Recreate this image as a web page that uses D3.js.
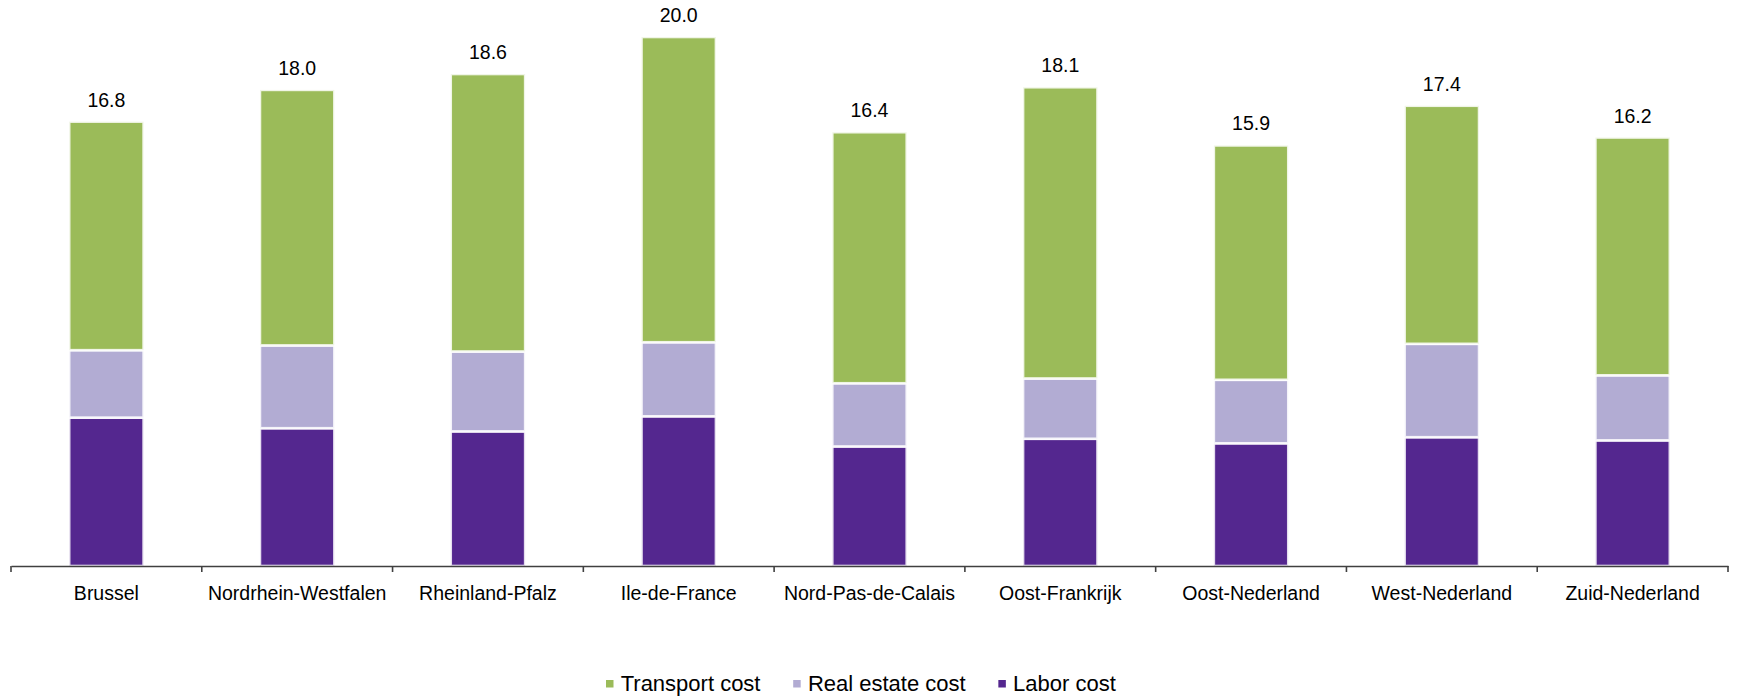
<!DOCTYPE html>
<html>
<head>
<meta charset="utf-8">
<script src="https://cdn.jsdelivr.net/npm/d3@7"></script>
<style>
  html, body { margin: 0; padding: 0; background: #fff; }
  svg { display: block; font-family: "Liberation Sans", Arial, sans-serif; }
</style>
</head>
<body>
<svg id="chart" width="1737" height="696"></svg>
<script>
const categories = ["Brussel", "Nordrhein-Westfalen", "Rheinland-Pfalz", "Ile-de-France", "Nord-Pas-de-Calais", "Oost-Frankrijk", "Oost-Nederland", "West-Nederland", "Zuid-Nederland"];
const laborCost = [5.61, 5.21, 5.09, 5.66, 4.52, 4.81, 4.64, 4.87, 4.75];
const realEstateCost = [2.55, 3.13, 3.02, 2.80, 2.39, 2.28, 2.40, 3.53, 2.46];
const transportCost = [8.64, 9.66, 10.49, 11.54, 9.49, 11.01, 8.86, 9.00, 8.99];
const totalLabels = ["16.8", "18.0", "18.6", "20.0", "16.4", "18.1", "15.9", "17.4", "16.2"];
const seriesNames = ["Labor cost", "Real estate cost", "Transport cost"];
const legendOrder = ["Transport cost", "Real estate cost", "Labor cost"];
const colors = { "Labor cost": "#54278f", "Real estate cost": "#b2acd3", "Transport cost": "#9bbb59" };

const rows = categories.map((c, i) => ({
  cat: c,
  "Labor cost": laborCost[i],
  "Real estate cost": realEstateCost[i],
  "Transport cost": transportCost[i],
  label: totalLabels[i]
}));

const svg = d3.select("#chart");
const x = d3.scaleBand().domain(categories).range([11, 1728]).padding(0);
const y = d3.scaleLinear().domain([0, 20]).range([566, 37]);
const barW = x.bandwidth() * 0.39;

const stack = d3.stack().keys(seriesNames)(rows);

svg.append("g").selectAll("g").data(stack).join("g")
  .attr("fill", d => colors[d.key])
  .selectAll("rect").data(d => d).join("rect")
  .attr("x", d => x(d.data.cat) + (x.bandwidth() - barW) / 2)
  .attr("width", barW)
  .attr("y", d => y(d[1]))
  .attr("height", d => y(d[0]) - y(d[1]))
  .attr("stroke", "#ffffff")
  .attr("stroke-opacity", 0.85)
  .attr("stroke-width", 2.6);

// total labels
svg.append("g").selectAll("text").data(rows).join("text")
  .attr("x", d => x(d.cat) + x.bandwidth() / 2)
  .attr("y", (d, i) => y(laborCost[i] + realEstateCost[i] + transportCost[i]) - 15)
  .attr("text-anchor", "middle")
  .attr("font-size", "19.5px")
  .attr("fill", "#000")
  .text(d => d.label);

// x axis
const axis = d3.axisBottom(x).tickSize(0).tickPadding(20);
const gx = svg.append("g").attr("transform", "translate(0,566)").call(axis);
gx.select(".domain").attr("stroke", "#404040").attr("stroke-width", 1.6);
gx.selectAll(".tick text").attr("font-size", "19.5px").attr("fill", "#000")
  .attr("font-family", "Liberation Sans, Arial, sans-serif")
  .attr("dy", "0.71em");
const boundaries = categories.map(c => x(c)).concat([x.range()[1]]);
gx.selectAll(".bnd").data(boundaries).join("line")
  .attr("class", "bnd")
  .attr("x1", d => d).attr("x2", d => d)
  .attr("y1", 0).attr("y2", 6)
  .attr("stroke", "#404040").attr("stroke-width", 1.6);

// legend
const lg = svg.append("g").attr("font-size", "22px");
let lx = 606;
legendOrder.forEach(name => {
  lg.append("rect").attr("x", lx).attr("y", 680).attr("width", 7.5).attr("height", 7.5).attr("fill", colors[name]);
  const t = lg.append("text").attr("x", lx + 14.7).attr("y", 691).attr("fill", "#000").text(name);
  const w = t.node().getComputedTextLength();
  lx = lx + 14.7 + w + 32.7;
});
</script>
</body>
</html>
